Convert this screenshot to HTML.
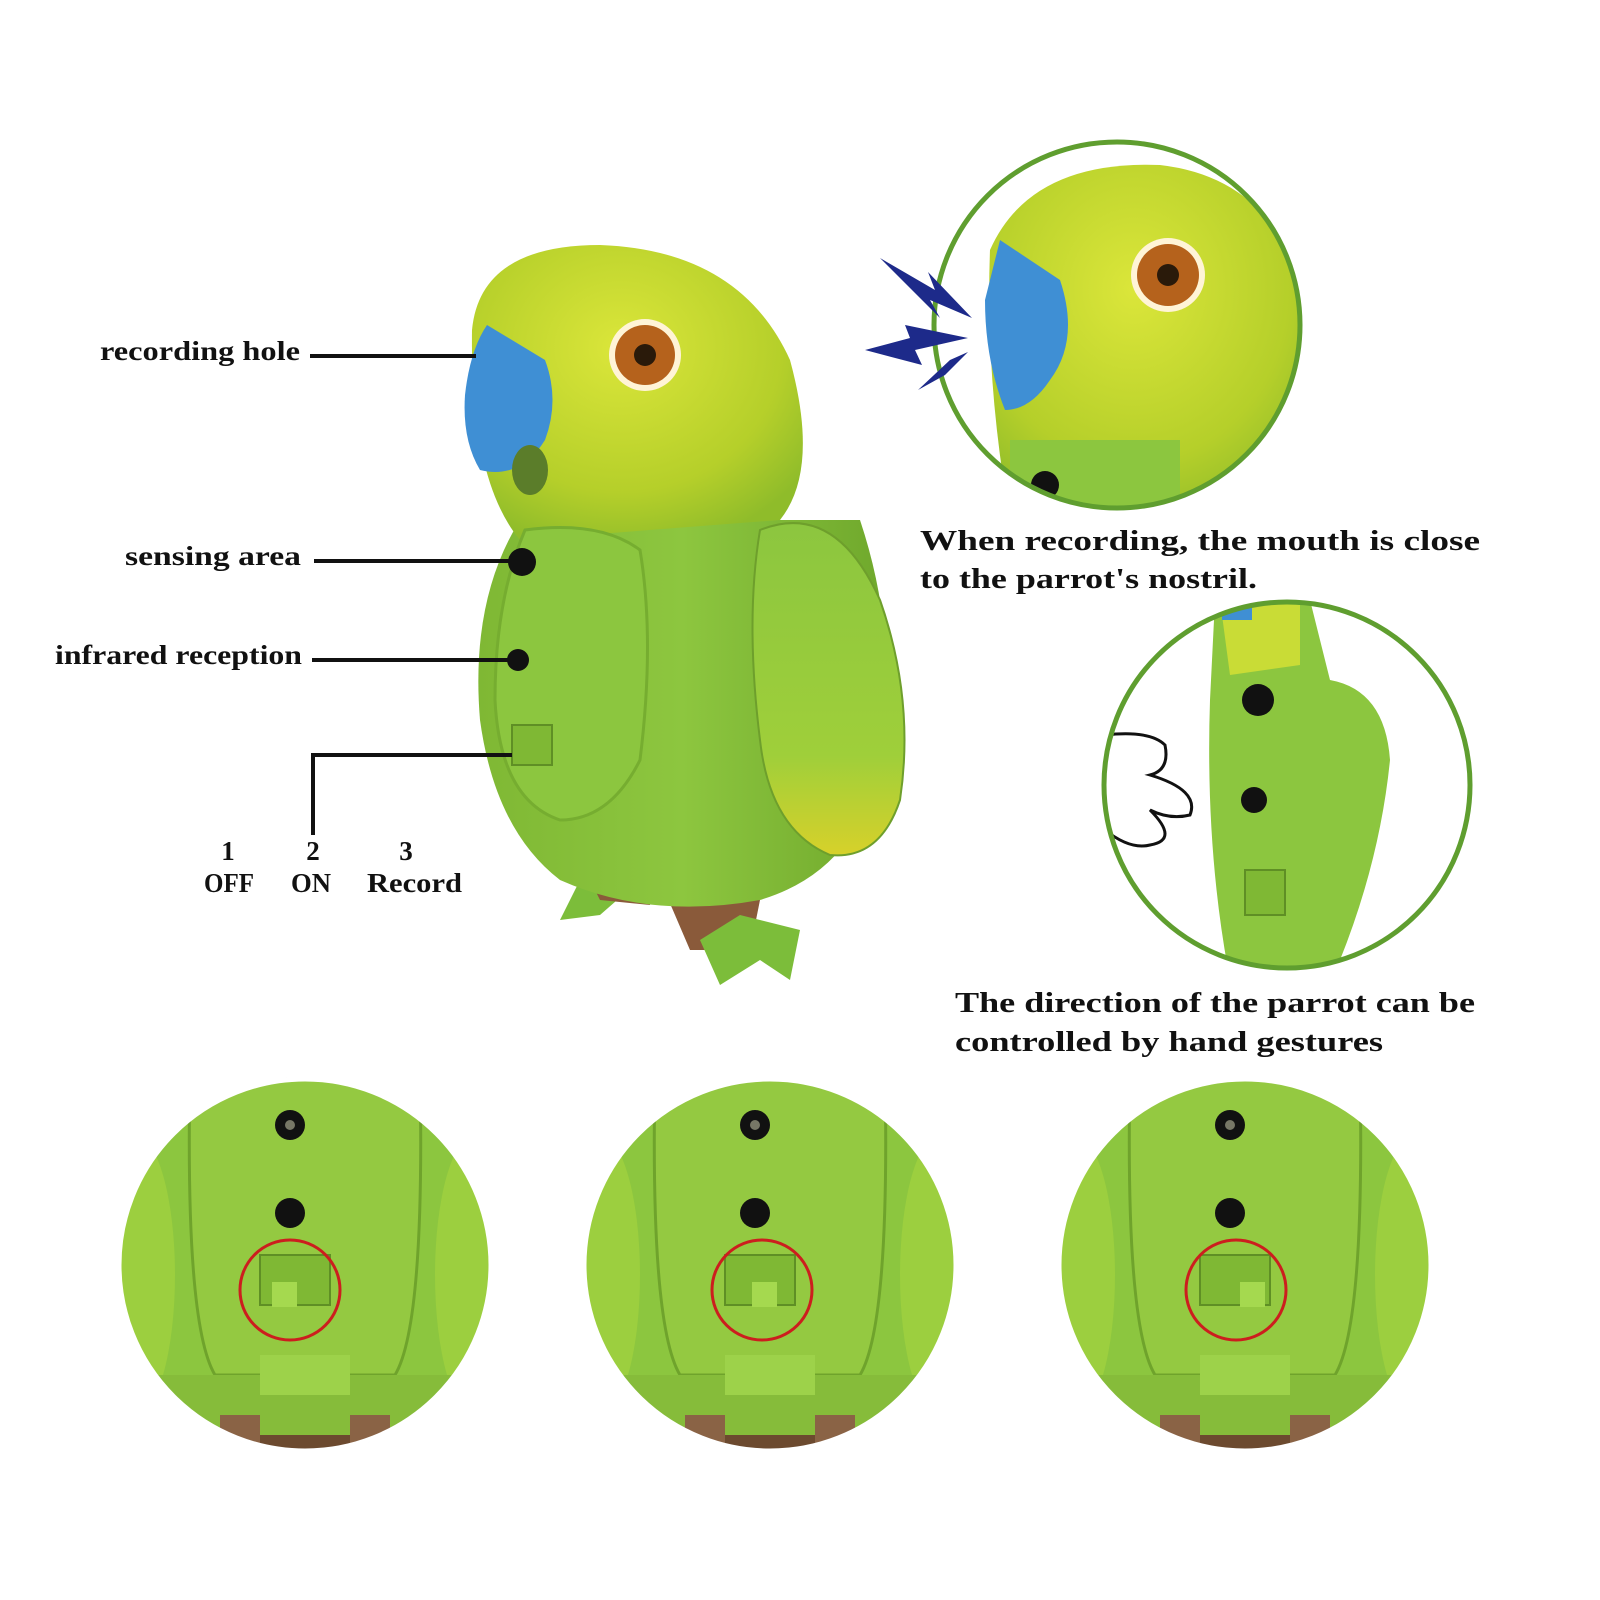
<!DOCTYPE html>
<html><head><meta charset="utf-8"><style>
html,body{margin:0;padding:0;background:#fff;}
svg{display:block}
text{font-family:"Liberation Serif",serif;font-weight:bold;fill:#111;}
</style></head><body>
<svg width="1600" height="1600" viewBox="0 0 1600 1600" xmlns="http://www.w3.org/2000/svg">
<defs>
<radialGradient id="head" cx="0.45" cy="0.35" r="0.7"><stop offset="0" stop-color="#dbe63a"/><stop offset="0.7" stop-color="#b5cf2a"/><stop offset="1" stop-color="#8fbc2a"/></radialGradient>
<linearGradient id="body" x1="0" y1="0" x2="1" y2="0"><stop offset="0" stop-color="#7fb834"/><stop offset="0.5" stop-color="#8dc63f"/><stop offset="1" stop-color="#6fa82c"/></linearGradient>
<linearGradient id="wing" x1="0" y1="0" x2="0" y2="1"><stop offset="0" stop-color="#8cc63f"/><stop offset="0.7" stop-color="#9fcf3a"/><stop offset="1" stop-color="#d7d12a"/></linearGradient>
<clipPath id="c1"><circle cx="1117" cy="325" r="183"/></clipPath>
<clipPath id="c2"><circle cx="1287" cy="785" r="183"/></clipPath>
<clipPath id="b1"><circle cx="305" cy="1265" r="188"/></clipPath>
<clipPath id="b2"><circle cx="770" cy="1265" r="188"/></clipPath>
<clipPath id="b3"><circle cx="1245" cy="1265" r="188"/></clipPath>
<g id="bot">
  <rect x="-200" y="-200" width="400" height="400" fill="#8cc63f"/>
  <ellipse cx="-170" cy="10" rx="40" ry="140" fill="#9ccf3f"/>
  <ellipse cx="170" cy="10" rx="40" ry="140" fill="#9ccf3f"/>
  <path d="M-115,-190 L115,-190 Q120,60 90,110 L-90,110 Q-120,60 -115,-190Z" fill="#94c941" stroke="#6fa32c" stroke-width="3"/>
  <rect x="-200" y="110" width="400" height="100" fill="#6c4a2f"/>
  <rect x="-150" y="110" width="300" height="60" fill="#86bc3a"/>
  <rect x="-45" y="90" width="90" height="40" fill="#9dd24a"/>
  <rect x="-85" y="150" width="40" height="50" fill="#8a6345"/>
  <rect x="45" y="150" width="40" height="50" fill="#8a6345"/>
  <circle cx="-15" cy="-140" r="15" fill="#111"/><circle cx="-15" cy="-140" r="5" fill="#776"/>
  <circle cx="-15" cy="-52" r="15" fill="#111"/>
  <rect x="-45" y="-10" width="70" height="50" fill="#7fb834" stroke="#5f8f25" stroke-width="2"/>
</g>
</defs>
<rect width="1600" height="1600" fill="#fff"/>

<!-- main parrot -->
<path d="M600,840 L560,920 L600,915 L640,880Z" fill="#7cbd3a"/>
<path d="M580,860 L600,900 L650,905 L640,860Z" fill="#8a5a3a"/>
<path d="M660,880 L690,950 L750,950 L760,900Z" fill="#8a5a3a"/>
<path d="M700,940 L720,985 L760,960 L790,980 L800,930 L740,915Z" fill="#7cbd3a"/>
<path d="M520,520 Q470,600 480,720 Q495,830 560,880 Q650,920 760,900 Q860,870 880,760 Q900,640 860,520Z" fill="url(#body)"/>
<path d="M472,330 Q480,245 600,245 Q740,250 790,360 Q820,470 780,520 L520,540 Q470,480 472,330Z" fill="url(#head)"/>
<path d="M525,530 Q600,520 640,550 Q655,640 640,760 Q610,820 560,820 Q500,800 495,700 Q495,600 525,530Z" fill="#8cc63f" stroke="#76ad30" stroke-width="3"/>
<path d="M760,530 Q835,500 880,600 Q915,700 900,800 Q880,860 830,855 Q770,830 760,740 Q745,620 760,530Z" fill="url(#wing)" stroke="#6e9f2c" stroke-width="2"/>
<path d="M487,325 L545,360 Q560,400 545,440 Q520,480 480,470 Q462,440 465,395 Q470,350 487,325Z" fill="#3f8fd4"/>
<ellipse cx="530" cy="470" rx="18" ry="25" fill="#5b7d2a"/>
<circle cx="645" cy="355" r="36" fill="#fff4d6"/><circle cx="645" cy="355" r="30" fill="#b5621c"/><circle cx="645" cy="355" r="11" fill="#2a1a0a"/>
<circle cx="522" cy="562" r="14" fill="#111"/>
<circle cx="518" cy="660" r="11" fill="#111"/>
<rect x="512" y="725" width="40" height="40" fill="#7fb834" stroke="#5f8f25" stroke-width="2"/>

<!-- labels & leaders -->
<text x="100" y="360" font-size="27" textLength="200" lengthAdjust="spacingAndGlyphs">recording hole</text>
<line x1="310" y1="356" x2="476" y2="356" stroke="#111" stroke-width="4"/>
<text x="125" y="565" font-size="27" textLength="176" lengthAdjust="spacingAndGlyphs">sensing area</text>
<line x1="314" y1="561" x2="518" y2="561" stroke="#111" stroke-width="4"/>
<text x="55" y="664" font-size="27" textLength="247" lengthAdjust="spacingAndGlyphs">infrared reception</text>
<line x1="312" y1="660" x2="510" y2="660" stroke="#111" stroke-width="4"/>
<polyline points="313,835 313,755 512,755" fill="none" stroke="#111" stroke-width="4"/>
<text x="228" y="860" font-size="27" text-anchor="middle">1</text>
<text x="313" y="860" font-size="27" text-anchor="middle">2</text>
<text x="406" y="860" font-size="27" text-anchor="middle">3</text>
<text x="204" y="892" font-size="27" textLength="50" lengthAdjust="spacingAndGlyphs">OFF</text>
<text x="291" y="892" font-size="27" textLength="40" lengthAdjust="spacingAndGlyphs">ON</text>
<text x="367" y="892" font-size="27" textLength="95" lengthAdjust="spacingAndGlyphs">Record</text>

<!-- top right circle -->
<g clip-path="url(#c1)">
  <rect x="930" y="140" width="380" height="380" fill="#fff"/>
  <path d="M990,250 Q1030,160 1160,165 Q1290,180 1310,330 L1310,520 L1010,520 Q985,380 990,250Z" fill="url(#head)"/>
  <path d="M1010,440 L1180,440 L1180,520 L1010,520Z" fill="#8cc63f"/>
  <path d="M1000,240 L1060,280 Q1080,340 1050,380 Q1030,410 1005,410 Q985,360 985,300Z" fill="#3f8fd4"/>
  <circle cx="1168" cy="275" r="37" fill="#fff4d6"/><circle cx="1168" cy="275" r="31" fill="#b5621c"/><circle cx="1168" cy="275" r="11" fill="#2a1a0a"/>
  <circle cx="1045" cy="485" r="14" fill="#111"/>
</g>
<circle cx="1117" cy="325" r="183" fill="none" stroke="#5f9e2f" stroke-width="5"/>
<path d="M880,258 L935,290 L928,272 L972,318 L930,300 L940,318Z" fill="#1d2a8a"/>
<path d="M865,350 L910,338 L905,325 L968,338 L915,350 L922,365Z" fill="#1d2a8a"/>
<path d="M918,390 L950,360 L968,352 L945,375Z" fill="#1d2a8a"/>
<text x="920" y="550" font-size="29" textLength="560" lengthAdjust="spacingAndGlyphs">When recording,  the mouth is close</text>
<text x="920" y="588" font-size="29" textLength="337" lengthAdjust="spacingAndGlyphs">to the parrot's nostril.</text>

<!-- middle right circle -->
<g clip-path="url(#c2)">
  <rect x="1100" y="600" width="380" height="380" fill="#fff"/>
  <path d="M1215,600 L1310,600 L1330,680 Q1385,690 1390,760 Q1380,860 1340,960 L1230,980 Q1205,850 1210,700Z" fill="#8cc63f"/>
  <path d="M1220,600 L1300,600 L1300,665 L1230,675Z" fill="#c9dc36"/>
  <rect x="1222" y="600" width="30" height="20" fill="#3f8fd4"/>
  <circle cx="1258" cy="700" r="16" fill="#111"/>
  <circle cx="1254" cy="800" r="13" fill="#111"/>
  <rect x="1245" y="870" width="40" height="45" fill="#7fb834" stroke="#5f8f25" stroke-width="2"/>
  <path d="M1105,735 Q1150,730 1165,745 Q1170,770 1150,775 Q1200,790 1190,815 Q1170,820 1150,810 Q1180,840 1150,845 Q1130,850 1105,830" fill="none" stroke="#111" stroke-width="3"/>
</g>
<circle cx="1287" cy="785" r="183" fill="none" stroke="#5f9e2f" stroke-width="5"/>
<text x="955" y="1012" font-size="29" textLength="520" lengthAdjust="spacingAndGlyphs">The direction of the parrot can be</text>
<text x="955" y="1051" font-size="29" textLength="428" lengthAdjust="spacingAndGlyphs">controlled by hand gestures</text>

<!-- bottom circles -->
<g clip-path="url(#b1)"><use href="#bot" transform="translate(305,1265)"/></g>
<circle cx="305" cy="1265" r="186" fill="none" stroke="#fff" stroke-width="5"/>
<circle cx="290" cy="1290" r="50" fill="none" stroke="#cc1e1e" stroke-width="3"/>
<rect x="272" y="1282" width="25" height="25" fill="#a5d94f"/>

<g clip-path="url(#b2)"><use href="#bot" transform="translate(770,1265)"/></g>
<circle cx="770" cy="1265" r="186" fill="none" stroke="#fff" stroke-width="5"/>
<circle cx="762" cy="1290" r="50" fill="none" stroke="#cc1e1e" stroke-width="3"/>
<rect x="752" y="1282" width="25" height="25" fill="#a5d94f"/>

<g clip-path="url(#b3)"><use href="#bot" transform="translate(1245,1265)"/></g>
<circle cx="1245" cy="1265" r="186" fill="none" stroke="#fff" stroke-width="5"/>
<circle cx="1236" cy="1290" r="50" fill="none" stroke="#cc1e1e" stroke-width="3"/>
<rect x="1240" y="1282" width="25" height="25" fill="#a5d94f"/>
</svg>
</body></html>
